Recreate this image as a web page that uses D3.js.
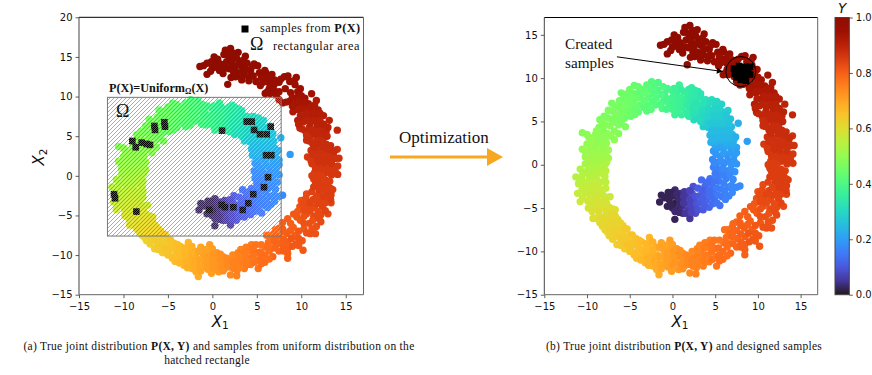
<!DOCTYPE html>
<html>
  <head>
    <meta charset="utf-8" />
    <title>Joint distribution and samples</title>
    <script src="https://cdnjs.cloudflare.com/ajax/libs/d3/7.8.5/d3.min.js"></script>
    <style>
      body { margin: 0; background: #fff; }
      text { font-family: "DejaVu Sans", sans-serif; fill: #111; }
      .serif { font-family: "Liberation Serif", serif; }
      .bold { font-weight: bold; }
    </style>
  </head>
  <body>
    <div id="chart"></div>
    <script>
      const coreArc = [[-1.5,-4.3,.02],[-1.3,-3.5,.02],[-.5,-3.2,.02],[-.4,-4,.02],[-.6,-4.8,.02],[.3,-2.9,.03],[.1,-3.6,.02],[.4,-4.4,.01],[0,-5,.02],[.6,-5.2,.03],[.28,-6.3,.02],[.9,-3.3,.04],[1,-4,.03],[1.1,-4.8,.04],[1.2,-5.6,.04],[1.7,-3.6,.06],[1.6,-4.4,.05],[1.8,-5.2,.06],[2.04,-6.2,.05],[2.43,-2.5,.09],[2.3,-3.3,.09],[2.4,-4.1,.08],[2.5,-4.9,.08],[2.7,-5.6,.08]];
      const coreFill = [[-.9,-3.8,.02],[-.1,-3.2,.02],[-.2,-4.5,.02],[.5,-3.4,.03],[.3,-5.4,.03],[.7,-3.9,.03],[.8,-4.6,.03],[.8,-5.5,.03],[1.4,-3.1,.05],[1.3,-3.7,.05],[1.3,-4.4,.05],[1.5,-5.6,.05],[2,-3,.07],[2,-4,.07],[2.1,-4.7,.07],[2.2,-5.5,.07],[2.7,-3.7,.09],[2.8,-4.5,.09],[3,-5.2,.09]];
      const blueArc = [[3,-2.7,.11],[3.1,-3.6,.1],[3.2,-4.4,.1],[3.6,-5.2,.1],[3.4,-1.75,.13],[3.8,-2.5,.12],[3.9,-3.3,.12],[4,-4.1,.12],[4.3,-4.9,.12],[4.4,-1.6,.14],[4.6,-2.4,.14],[4.8,-3.2,.14],[4.9,-4,.13],[5.55,-4.7,.14],[5,-1,.15],[5.4,-1.9,.15],[5.7,-2.8,.16],[5.8,-3.7,.15],[6.6,-3.6,.16],[6.5,-2.6,.16],[7.5,-2.6,.17],[7.9,-2.45,.17],[6.3,-1.6,.16],[7.1,-1.7,.17],[5.6,-.6,.16],[4.8,-.3,.16],[6.4,-.7,.17],[7.3,-.8,.18],[5.3,.3,.17],[6.1,.2,.18],[6.9,.1,.19],[7.5,.1,.19],[4.7,.6,.17],[5.6,1,.19],[6.4,1.1,.19],[7.2,1,.2],[4.8,1.6,.19],[5.3,1.9,.2],[6,2,.21],[6.8,2,.21],[7.5,2,.21],[8.75,2.7,.2]];
      const blueFill = [[3.5,-3,.11],[3.5,-3.9,.11],[3.7,-4.7,.11],[4.1,-2,.13],[4.3,-3,.13],[4.5,-3.7,.13],[4.7,-4.5,.13],[4.9,-1.9,.14],[5.2,-2.7,.15],[5.3,-3.5,.15],[5.2,-4.4,.14],[6.1,-3.1,.16],[6.2,-4,.16],[6,-2.1,.16],[6.9,-2.4,.17],[7,-3.2,.17],[5.2,-1.3,.15],[5.9,-1.2,.16],[6.7,-1.1,.17],[5.1,-.3,.16],[5.9,-.4,.17],[6.8,-.5,.18],[4.9,.2,.17],[5.7,.4,.18],[6.5,.5,.18],[7.2,.4,.19],[5.1,1.2,.19],[6,1.4,.2],[6.8,1.4,.2],[7.5,1.4,.2],[5,2.2,.21],[5.6,2.3,.21],[6.3,2.4,.22],[7.1,2.4,.22]];
      const skyArc = [[4.5,2.6,.23],[5.1,2.7,.23],[5.8,2.8,.23],[6.5,2.8,.23],[7.2,2.9,.23],[4.4,3.4,.24],[5,3.5,.25],[5.7,3.6,.25],[6.4,3.7,.25],[7,3.5,.24],[7.7,4.8,.23],[3.6,4.4,.28],[4.2,4.3,.27],[4.9,4.4,.26],[5.6,4.4,.26],[6.3,4.5,.26],[6.9,4.4,.25],[3.3,5,.3],[4,5.2,.29],[4.7,5.2,.28],[5.4,5.2,.28],[6.1,5.2,.27],[6.8,5.3,.26],[2.5,5.2,.31],[3.1,5.8,.31],[3.8,5.9,.3],[4.5,6,.29],[5.2,6,.29],[5.9,6.1,.28],[6.5,6.26,.28],[5.75,7,.29],[5,6.9,.3],[4.6,7.5,.31],[4.1,6.8,.31],[3.4,6.7,.32],[2.7,6.3,.33],[3.9,7.5,.32],[3.3,7.8,.33],[2.7,7.3,.33],[3,8.45,.34],[2.24,8.9,.35],[2.2,8.1,.34],[2,7.3,.34],[2,6.4,.34],[1.9,5.6,.34]];
      const skyFill = [[4.7,3,.24],[5.4,3.1,.24],[6.1,3.2,.24],[6.8,3.2,.24],[7.4,3.2,.23],[4.6,3.9,.25],[5.3,4,.25],[6,4,.25],[6.7,3.9,.25],[4,4.7,.28],[4.5,4.8,.27],[5.2,4.8,.27],[5.9,4.8,.27],[6.6,4.8,.26],[3.5,5.5,.3],[4.2,5.6,.29],[4.9,5.6,.28],[5.6,5.6,.28],[6.3,5.7,.27],[3,5.4,.31],[2.5,5.9,.32],[3.5,6.3,.31],[4.2,6.4,.3],[4.9,6.4,.29],[5.5,6.5,.29],[3,7,.33],[3.7,7.1,.32],[4.4,7.2,.31],[5.2,7.3,.3],[2.5,7.9,.34],[3.3,8.2,.33],[2.6,8.6,.34],[2.4,6.7,.33],[1.6,6,.35],[1.6,6.9,.35],[1.8,7.9,.35],[1.9,8.7,.35]];
      const topArc = [[1.07,5.76,.36],[.28,5.76,.37],[1.1,6.6,.36],[1.3,7.5,.36],[1.4,8.4,.36],[.8,9.2,.37],[.5,8.2,.37],[.4,7.3,.37],[.5,6.5,.37],[-.1,8.6,.38],[-.3,7.6,.38],[-.4,6.9,.39],[-.9,8.2,.39],[-1.1,7.3,.4],[-1.2,6.5,.4],[-1.66,9.5,.4],[-1.7,8.6,.4],[-1.9,7.7,.41],[-2,6.9,.41],[-2.44,9.6,.41],[-2.6,8.7,.42],[-2.8,7.8,.42],[-2.9,6.9,.42],[-3,6.2,.42],[-3.5,8.7,.43],[-3.7,7.8,.43],[-3.8,6.9,.43],[-4,6.1,.43],[-4.47,9.15,.44],[-4.5,8.2,.44],[-4.6,7.3,.44],[-4.7,6.4,.44],[-5.3,8.2,.45],[-5.3,7.3,.45],[-5.5,6.3,.45],[-5.6,5.4,.45],[-5.5,4.4,.47],[-4.9,5.6,.44]];
      const topFill = [[.7,6.2,.37],[.8,7,.37],[.9,7.8,.37],[1,8.7,.36],[0,6.4,.38],[.1,7.1,.38],[.1,7.9,.38],[.2,8.8,.37],[-.7,6.4,.39],[-.7,7.6,.39],[-.6,8.8,.39],[-1.4,7,.4],[-1.3,8.1,.4],[-1.1,9,.4],[-2.3,7.3,.41],[-2.2,8.2,.41],[-2.1,9.1,.41],[-2.5,6.4,.42],[-3.3,6.6,.42],[-3.3,7.4,.43],[-3.1,8.3,.43],[-3,9.2,.42],[-3.9,8.3,.43],[-4,9,.44],[-4.3,6.8,.44],[-4.2,7.7,.44],[-4.4,5.8,.44],[-5,6.9,.45],[-4.9,7.8,.45],[-5.1,5.9,.45],[-5,8.7,.45]];
      const leftArc = [[-6,8.3,.45],[-6.2,7.4,.46],[-6.2,6.5,.46],[-6.3,5.6,.46],[-7.1,7.1,.46],[-7,6.2,.47],[-7.1,5.2,.47],[-6.3,4.6,.47],[-6.8,3.9,.48],[-6.8,2.9,.49],[-8,5.6,.47],[-8.5,5.2,.47],[-7.9,4.6,.48],[-8.6,4.3,.48],[-7.6,3.6,.49],[-8.3,3.4,.49],[-9,3.5,.49],[-10.55,3.7,.48],[-9.8,3.2,.49],[-9.2,2.6,.5],[-8.5,2.5,.5],[-7.7,2.5,.5],[-10,2.4,.5],[-10.55,1.8,.5],[-9.8,1.6,.51],[-9,1.7,.51],[-8.2,1.6,.51],[-7.5,1.7,.51],[-10.2,.9,.51],[-9.5,.8,.52],[-8.8,.9,.52],[-8,.8,.52],[-7.5,.76,.52],[-10.2,.1,.52],[-9.5,0,.53],[-8.7,.1,.53],[-7.9,0,.53],[-10.8,-.5,.53],[-10.1,-.8,.54],[-9.3,-.7,.54],[-8.5,-.8,.54],[-7.8,-.7,.54],[-11.3,-1.4,.54],[-10.6,-1.6,.55],[-9.7,-1.6,.55],[-8.9,-1.6,.55],[-7.9,-1.35,.55],[-11,-2.2,.55],[-10.3,-2.5,.56],[-9.5,-2.4,.56],[-8.7,-2.4,.56],[-7.8,-2.7,.56],[-11.1,-3.3,.56],[-10.2,-3.3,.57],[-9.4,-3.2,.57],[-8.6,-3.3,.57],[-7.3,-3.7,.57],[-8,-3.6,.57],[-10.8,-4.25,.57],[-9.9,-4.2,.58],[-9.1,-4.1,.58],[-8.3,-4.3,.58],[-9.85,-5,.59],[-9,-5,.59],[-8.1,-5,.59],[-7.4,-4.9,.59],[-6.7,-5.2,.6]];
      const leftFill = [[-5.7,7.8,.45],[-5.8,6.9,.46],[-5.9,6,.46],[-6,5,.46],[-6.6,6.8,.46],[-6.7,5.8,.47],[-6.7,4.9,.47],[-6.3,3.6,.48],[-7.5,6.3,.47],[-7.5,5.4,.47],[-7.3,4.5,.48],[-7.2,3.3,.49],[-8.2,4.9,.48],[-8.1,4,.48],[-8.9,3.9,.49],[-7.9,3,.49],[-8.7,3,.49],[-9.5,2.9,.5],[-10,3.5,.49],[-8.9,2.1,.5],[-8.1,2.1,.5],[-9.6,2.1,.5],[-10.2,1.5,.51],[-9.4,1.3,.51],[-8.6,1.3,.51],[-7.8,1.2,.51],[-9.8,.4,.52],[-9.1,.4,.52],[-8.4,.5,.52],[-7.7,.3,.53],[-9.8,-.4,.53],[-9,-.3,.53],[-8.2,-.4,.54],[-10.5,-1.1,.54],[-9.7,-1.2,.54],[-8.9,-1.1,.54],[-8.1,-1.1,.55],[-10.8,-1.9,.55],[-10,-2,.55],[-9.3,-2,.56],[-8.4,-2,.56],[-7.8,-2,.55],[-10.6,-2.9,.56],[-9.8,-2.8,.56],[-9,-2.9,.57],[-8.2,-2.9,.56],[-10.5,-3.8,.57],[-9.6,-3.7,.57],[-8.8,-3.7,.58],[-7.8,-4.2,.58],[-9.5,-4.6,.58],[-8.7,-4.6,.59],[-7.7,-4.5,.59],[-9.4,-5.4,.59],[-8.6,-5.3,.6],[-7.7,-5.4,.6],[-7,-5.1,.6]];
      const lowerArc = [[-9.3,-6.2,.6],[-8.6,-5.8,.6],[-7.8,-5.8,.6],[-7.1,-5.7,.61],[-8.5,-6.7,.61],[-7.8,-6.6,.61],[-7,-6.5,.61],[-6.4,-6.3,.61],[-7.9,-7.5,.62],[-7.2,-7.3,.62],[-6.5,-7.2,.62],[-5.8,-7,.63],[-5.3,-7.4,.63],[-7.4,-8.2,.62],[-6.6,-8,.63],[-5.8,-7.9,.63],[-5,-8.1,.64],[-6.5,-9.2,.63],[-5.8,-8.8,.64],[-5,-8.9,.64],[-4.3,-8.5,.65],[-5.6,-9.7,.64],[-4.9,-9.6,.65],[-4.2,-9.3,.65],[-3.6,-8.9,.66],[-4.2,-10.1,.65],[-4.2,-10.8,.66],[-3.5,-9.8,.66],[-3.4,-10.6,.67],[-3.2,-11.3,.67],[-2.7,-8.4,.67],[-2.8,-9.3,.67],[-2.6,-10.2,.68],[-2.5,-11,.68],[-2.3,-11.7,.68],[-1.85,-12.1,.69],[-1.58,-12.7,.69],[-1.9,-9.5,.69],[-1.8,-10.4,.69],[-1.7,-11.2,.69],[-1.3,-9,.7],[-1,-9.9,.7],[-1,-10.7,.7],[-1,-11.5,.7],[-.3,-8.7,.71],[-.3,-9.6,.71],[-.2,-10.4,.71],[-.2,-11.2,.71],[-.1,-12.3,.71]];
      const lowerFill = [[-8.9,-6.2,.6],[-8.2,-6.2,.61],[-7.4,-6.1,.61],[-6.7,-5.9,.61],[-8.2,-7.1,.61],[-7.5,-6.9,.62],[-6.8,-6.8,.62],[-6.1,-6.7,.62],[-7.6,-7.8,.62],[-6.9,-7.7,.63],[-6.2,-7.6,.63],[-5.5,-7.4,.64],[-7,-8.6,.63],[-6.2,-8.4,.64],[-5.4,-8.4,.64],[-4.7,-8.1,.65],[-6.1,-9.3,.64],[-5.3,-9.2,.65],[-4.6,-9,.65],[-3.9,-8.7,.66],[-5,-10,.65],[-4.5,-10.4,.66],[-3.9,-9.6,.66],[-3.8,-10.4,.66],[-3.7,-11,.67],[-3.1,-9.1,.67],[-3.1,-10,.67],[-2.9,-10.8,.68],[-2.8,-11.6,.68],[-2.3,-8.9,.68],[-2.3,-9.8,.68],[-2.1,-10.7,.69],[-2,-11.4,.69],[-1.5,-9.6,.7],[-1.4,-10.6,.7],[-1.4,-11.5,.7],[-1.3,-12,.7],[-.7,-9.3,.7],[-.6,-10.2,.71],[-.6,-11,.71],[-.5,-11.8,.71],[0,-9.2,.71],[.1,-10,.72],[.1,-10.8,.72],[.1,-11.6,.72]];
      const bottomArc = [[.5,-9.7,.72],[.5,-10.5,.72],[.5,-11.3,.72],[.7,-12.1,.72],[1.2,-10.2,.73],[1.3,-11,.73],[1.4,-11.7,.73],[1.9,-10.7,.74],[2,-11.5,.74],[2.04,-12.5,.74],[2.74,-12.6,.75],[2.6,-10.3,.75],[2.7,-11.1,.75],[2.8,-11.9,.75],[3.2,-9.3,.75],[3.3,-10.1,.75],[3.5,-10.9,.76],[3.6,-11.7,.76],[4.4,-8.7,.76],[4.1,-9.5,.76],[4.2,-10.4,.76],[4.3,-11.2,.76],[5.16,-11.7,.77],[4.9,-8.7,.77],[5,-9.7,.77],[5.1,-10.6,.77],[6,-9,.78],[5.9,-10,.78],[5.9,-10.9,.78],[6.1,-7.5,.78],[6.6,-8.1,.78],[6.7,-9.1,.78],[6.8,-10.2,.79],[7,-7.2,.79],[7.5,-6.6,.79],[7.5,-7.6,.79],[7.6,-8.5,.79],[7.5,-9.5,.79],[8.4,-7.3,.8],[8.5,-8.3,.8],[8.47,-9.2,.8],[8.47,-9.8,.8],[8.47,-10.4,.8],[9.1,-6.5,.8],[9.3,-7.5,.8],[9.4,-8.6,.81],[10.2,-9.4,.81],[10.1,-8.2,.81],[8.47,-5.4,.8],[7.9,-6.7,.8]];
      const bottomFill = [[.9,-9.9,.73],[.9,-10.6,.73],[1,-11.5,.73],[1.2,-12,.73],[1.6,-10.4,.74],[1.7,-11.3,.74],[2.3,-10,.74],[2.3,-10.9,.75],[2.4,-11.7,.75],[2.9,-9.7,.75],[3,-10.6,.75],[3.1,-11.5,.75],[3.7,-9.6,.76],[3.8,-10.4,.76],[3.9,-11.2,.76],[3.8,-9,.76],[4.6,-9.2,.77],[4.6,-10,.77],[4.7,-10.9,.77],[5.5,-8.7,.77],[5.4,-9.6,.78],[5.5,-10.4,.78],[5.5,-11.1,.78],[6.3,-8.4,.78],[6.4,-9.5,.78],[6.4,-10.5,.78],[6.5,-7.5,.78],[7,-8.3,.79],[7.1,-9.1,.79],[7.1,-6.8,.79],[7.1,-7.8,.79],[8,-7,.8],[8,-8,.8],[8,-8.9,.8],[8,-9.5,.8],[7.9,-5.9,.8],[8.8,-6,.8],[8.8,-6.9,.8],[8.9,-7.9,.81],[9,-8.9,.81],[9.7,-7,.81],[9.7,-7.9,.81],[9.7,-8.8,.81]];
      const rightArc = [[9.14,-4.83,.81],[9.9,-5.6,.81],[10.3,-6.7,.81],[11,-7.3,.82],[11.6,-7.3,.82],[10.9,-6,.82],[11.7,-6.4,.82],[12.2,-5.8,.83],[9.84,-3.9,.82],[10.6,-4.8,.82],[11.4,-5.1,.83],[12.2,-4.9,.83],[13,-4.8,.83],[10,-3.1,.82],[10.7,-3.8,.83],[11.5,-4,.83],[12.4,-3.9,.84],[13.35,-3.4,.84],[10.6,-2.3,.83],[11.3,-3,.84],[12.2,-3.1,.84],[13,-2.9,.84],[11.2,-2,.84],[12,-2.1,.85],[12.8,-2.2,.85],[13.35,-2.43,.85],[13.54,-1.74,.85],[11.6,-.78,.85],[12.3,-1.2,.85],[13,-1.3,.85],[12,-.2,.85],[12.7,-.5,.85],[11.2,0,.85],[11.9,.6,.85],[12.7,.4,.86],[13.4,.1,.86],[14.1,.18,.86],[11.2,1.53,.86],[12,1.3,.86],[12.8,1.2,.86],[13.6,1,.86],[14.1,1.25,.86],[10.7,2.38,.86],[11.5,2.2,.87],[12.3,2.2,.87],[13.1,2.2,.87],[13.8,2.2,.87],[14.24,2.22,.87],[11.1,3.2,.87],[11.9,3.1,.87],[12.7,3.1,.87],[13.4,3,.87],[14.05,3.34,.87],[10.6,4.5,.88],[11.3,4,.88],[12,4,.88],[12.8,4,.88],[13.3,3.8,.88],[11,4.9,.88],[11.8,4.9,.88],[12.5,4.8,.88],[9.84,6.03,.89],[10.5,5.6,.89],[11.2,5.7,.89],[12,5.6,.89],[12.8,5.6,.89],[14.05,5.76,.89]];
      const rightFill = [[9.5,-5.2,.81],[9.6,-4.5,.81],[10.3,-5.1,.82],[10.3,-6,.82],[10.6,-7.2,.82],[11.2,-6.7,.82],[11.3,-5.6,.82],[12,-5.4,.83],[10.2,-3.5,.83],[10.3,-4.3,.83],[11,-4.4,.83],[11.9,-4.5,.83],[12.7,-4.4,.84],[10.5,-2.9,.83],[11,-3.4,.84],[11.8,-3.5,.84],[12.7,-3.4,.84],[11.7,-2.6,.84],[12.5,-2.6,.85],[13.3,-3,.85],[11.4,-1.4,.85],[12,-1.5,.85],[12.7,-1.7,.85],[13.3,-1.6,.85],[11.4,-.4,.85],[11.9,-.9,.85],[12.5,-.9,.85],[13.2,-.7,.85],[11.5,.4,.85],[12.3,.2,.85],[13,.5,.86],[13.8,.7,.86],[11.6,1,.86],[12.4,.9,.86],[13.2,1.1,.86],[11.1,1.9,.86],[11.9,1.8,.87],[12.6,1.7,.87],[13.4,1.6,.87],[11.3,2.7,.87],[12.1,2.7,.87],[12.9,2.6,.87],[13.6,2.7,.87],[11.5,3.6,.88],[12.4,3.6,.88],[13.1,3.4,.88],[13.7,3.1,.88],[10.9,4.4,.88],[11.7,4.4,.88],[12.4,4.4,.88],[10.6,5.1,.88],[11.5,5.3,.89],[12.2,5.3,.89],[12.9,5,.89],[10.1,5.9,.89],[10.9,6.1,.89],[11.7,6,.89],[12.4,6,.89],[13,6.1,.9]];
      const upperArc = [[10.2,6.8,.9],[11,6.6,.9],[11.8,6.5,.9],[12.5,6.5,.9],[13.15,7,.9],[9.6,7,.91],[10.3,7.6,.91],[11,7.5,.91],[11.8,7.4,.91],[12.5,7.6,.91],[9.06,8.07,.92],[9.8,8.3,.92],[10.5,8.4,.92],[11.2,8.3,.92],[11.9,8.3,.92],[9.3,9,.93],[10,9.1,.93],[10.8,9.1,.93],[11.7,9.5,.92],[8.7,9.4,.94],[9.5,9.8,.94],[10.4,9.8,.94],[11.16,10.35,.94],[7.9,9.2,.94],[9.6,10.6,.95],[9.3,11.5,.95],[9.44,12.4,.96],[8.1,12.5,.96],[8.7,11.9,.96],[7.5,11.8,.96],[6.94,11.5,.96],[6.5,10.4,.96],[5.94,10.38,.96],[6.4,11,.96],[7.2,10.2,.95],[7.5,10.6,.95],[8.2,11,.95],[8.8,10.5,.95]];
      const upperFill = [[9.7,6.5,.9],[10.6,7,.9],[11.4,7,.9],[12.1,7,.9],[9.9,7.6,.91],[10.7,8,.91],[11.4,7.9,.91],[12.1,7.9,.91],[9.5,8.4,.92],[10.2,8.7,.92],[11,8.7,.92],[11.5,8.9,.92],[9,8.8,.93],[9.7,9.4,.93],[10.3,9.3,.93],[9,9.9,.94],[10,10.1,.94],[8.3,9.3,.94],[7.5,9.6,.95],[9.9,11,.95],[9.2,12,.95],[8.5,12.6,.96],[7.7,12.2,.96],[7,12.1,.96],[6.4,11.7,.96],[6.9,10.8,.96],[6.2,10.6,.96]];
      const headArc = [[6,13,.96],[6.7,12.8,.96],[6.1,12.2,.96],[5.7,11.8,.96],[5.4,11.4,.96],[4.9,11.9,.96],[4.1,12,.97],[4.6,12.6,.97],[5.3,13,.97],[5.1,13.9,.97],[4.7,14.1,.97],[4.3,13.3,.98],[3.6,12.7,.98],[3.3,12.1,.97],[3.9,14.2,.98],[3.3,13.8,.98],[2.9,13,.98],[2.1,12.4,.99],[1.73,11.54,.98],[2.5,13.6,.99],[1.9,13.5,1],[2.2,14.2,1],[3,14.5,.99],[3.71,15.1,.99],[2.4,14.9,1],[2.9,15.58,.99],[1.8,15.2,1],[2.04,16.07,1],[1.46,15.84,1],[1.5,13.6,1],[1.2,12.9,.99],[.8,13.3,1],[.9,14.1,1],[.3,14.3,1],[.2,15,1],[0,13.6,1],[-.6,14.2,.99],[-.6,12.8,.99],[-1.4,13.8,.99]];
      const headFill = [[6.5,12.4,.96],[5.5,12.4,.96],[5.9,13.3,.97],[4.5,13.8,.97],[3.8,13.4,.98],[3.5,13,.98],[4.2,12.5,.98],[3.1,12.6,.98],[2.6,12.5,.99],[2.4,13,.99],[2.9,14,.99],[3.5,14.6,.98],[2.7,14.9,.99],[2,14.8,1],[1.6,14.4,1],[1.3,15.3,1],[1.1,13.7,1],[.5,13.7,1],[.6,14.7,1],[-.1,14.4,1],[-.2,13.2,1],[-1,13.9,1],[2.3,15.5,1]];

      const jointPoints = [...coreArc, ...coreFill, ...blueArc, ...blueFill, ...skyArc, ...skyFill, ...topArc, ...topFill, ...leftArc, ...leftFill, ...lowerArc, ...lowerFill, ...bottomArc, ...bottomFill, ...rightArc, ...rightFill, ...upperArc, ...upperFill, ...headArc, ...headFill];

      // samples, [X1, X2]
      const uniformSamples = [[-9,4.4],[-8.62,3.6],[-7.95,4.19],[-7.39,4.02],[-7.01,3.9],[-6.53,6.29],[-6.45,5.79],[-5.4,6.76],[-5.33,6.2],[-11.06,-2.32],[-10.95,-2.83],[-8.55,-4.51],[1.09,5.7],[3.86,6.84],[4.42,6.84],[4.69,5.79],[5.36,5.25],[6.11,5.25],[6.56,6.2],[6.04,2.6],[6.63,2.6],[6.26,-.18],[5.81,-1.44],[4.6,-2.32],[4.04,-3.46],[3.41,-4.3],[2.36,-3.96],[1.05,-3.67],[1.42,-3.96],[-.34,-4.3]];
      const designedSamples = [[7.2,11.1],[7.3,10.5],[7.8,11.4],[7.9,10.8],[8,10.2],[8.5,11.3],[8.5,10.6],[8.4,10],[8.9,10.9],[9.1,11.3],[9.1,10.4],[8,9.8],[8.6,9.7],[7.5,10.1]];

      const xTicks = [-15, -10, -5, 0, 5, 10, 15];
      const yTicksLeft = [-15, -10, -5, 0, 5, 10, 15, 20];
      const yTicksRight = [-15, -10, -5, 0, 5, 10, 15];
      const colorTicks = [0, 0.2, 0.4, 0.6, 0.8, 1];
      const omegaRect = { x0: -11.8, x1: 7.74, y0: -7.6, y1: 9.9 };

      const width = 872, height = 375, dotR = 3.7, squareSize = 6.6;

      const svg = d3.select("#chart").append("svg").attr("width", width).attr("height", height);
      const defs = svg.append("defs");

      // grey hatch lines with a faint pale streak in between, the marks under it look washed out
      const hatch = defs.append("pattern").attr("id", "hatch")
        .attr("patternUnits", "userSpaceOnUse").attr("width", 4).attr("height", 4);
      hatch.append("path").attr("d", "M-1,3L3,-1M1,5L5,1")
        .attr("stroke", "#fff").attr("stroke-opacity", 0.28).attr("stroke-width", 1);
      hatch.append("path").attr("d", "M-1,1L1,-1M0,4L4,0M3,5L5,3")
        .attr("stroke", "#888").attr("stroke-width", 0.7);

      function drawPanel(box, domainX, domainY, yTicks, samples) {
        const x = d3.scaleLinear().domain(domainX).range([box.left, box.right]);
        const y = d3.scaleLinear().domain(domainY).range([box.bottom, box.top]);
        const g = svg.append("g");

        g.append("g").selectAll("circle").data(jointPoints).join("circle")
          .attr("cx", (d) => x(d[0]))
          .attr("cy", (d) => y(d[1]))
          .attr("r", dotR)
          .attr("fill", (d) => d3.interpolateTurbo(d[2]));

        g.append("g").selectAll("rect").data(samples).join("rect")
          .attr("x", (d) => x(d[0]) - squareSize / 2)
          .attr("y", (d) => y(d[1]) - squareSize / 2)
          .attr("width", squareSize)
          .attr("height", squareSize)
          .attr("fill", "#000");

        const xAxis = g.append("g").attr("transform", `translate(0,${box.bottom})`)
          .call(d3.axisBottom(x).tickValues(xTicks).tickFormat(d3.format("d")).tickSize(3.5).tickSizeOuter(0));
        const yAxis = g.append("g").attr("transform", `translate(${box.left},0)`)
          .call(d3.axisLeft(y).tickValues(yTicks).tickFormat(d3.format("d")).tickSize(3.5).tickSizeOuter(0));
        [xAxis, yAxis].forEach((a) => {
          a.select(".domain").remove();
          a.selectAll("line").attr("stroke", "#333").attr("stroke-width", 0.8);
          a.selectAll("text").attr("font-size", 10).attr("font-family", "DejaVu Sans").attr("fill", "#111");
        });
        xAxis.selectAll("text").attr("dy", "0.85em");

        // spines, the reference renders top darker than the rest
        const spine = (x1, y1, x2, y2, c) => g.append("line")
          .attr("x1", x1).attr("y1", y1).attr("x2", x2).attr("y2", y2)
          .attr("stroke", c).attr("stroke-width", 1);
        spine(box.left, box.top, box.right, box.top, "#000");
        spine(box.left, box.top, box.left, box.bottom, "#444");
        spine(box.right, box.top, box.right, box.bottom, "#666");
        spine(box.left, box.bottom, box.right, box.bottom, "#666");

        const xLabel = g.append("text").attr("x", (box.left + box.right) / 2 - 1).attr("y", box.bottom + 32)
          .attr("text-anchor", "middle").attr("font-size", 15).attr("font-style", "italic").text("X");
        xLabel.append("tspan").attr("font-size", 10.5).attr("font-style", "normal").attr("dy", 2.5).text("1");

        return { g, x, y };
      }

      // left panel
      const leftBox = { left: 79, right: 363.5, top: 17.3, bottom: 294.7 };
      const left = drawPanel(leftBox, [-15, 17], [-15, 20], yTicksLeft, uniformSamples);

      left.g.append("rect")
        .attr("x", left.x(omegaRect.x0)).attr("y", left.y(omegaRect.y1))
        .attr("width", left.x(omegaRect.x1) - left.x(omegaRect.x0))
        .attr("height", left.y(omegaRect.y0) - left.y(omegaRect.y1))
        .attr("fill", "url(#hatch)")
        .attr("stroke", "#777").attr("stroke-width", 1);

      const x2Label = left.g.append("text").attr("transform", "translate(44,157) rotate(-90)")
        .attr("text-anchor", "middle").attr("font-size", 15).attr("font-style", "italic").text("X");
      x2Label.append("tspan").attr("font-size", 10.5).attr("font-style", "normal").attr("dy", 2.5).text("2");

      // legend
      left.g.append("rect").attr("x", 241.5).attr("y", 25.5).attr("width", 7).attr("height", 7).attr("fill", "#000");
      const legend1 = svg.append("text").attr("class", "serif").attr("x", 260).attr("y", 32)
        .attr("font-size", 12.3).attr("letter-spacing", 0.36);
      legend1.append("tspan").text("samples from ");
      legend1.append("tspan").attr("class", "bold").text("P(X)");
      svg.append("text").attr("class", "serif").attr("x", 250).attr("y", 50).attr("font-size", 18).text("Ω");
      svg.append("text").attr("class", "serif").attr("x", 273).attr("y", 50)
        .attr("font-size", 12.3).attr("letter-spacing", 0.5).text("rectangular area");

      const uniformLabel = svg.append("text").attr("class", "serif bold").attr("x", 109).attr("y", 92).attr("font-size", 12.2);
      uniformLabel.append("tspan").text("P(X)=Uniform");
      uniformLabel.append("tspan").attr("font-size", 8).attr("dy", 2).text("Ω");
      uniformLabel.append("tspan").attr("dy", -2).text("(X)");
      svg.append("text").attr("class", "serif").attr("x", 116).attr("y", 116.5).attr("font-size", 18).text("Ω");

      // right panel
      const rightBox = { left: 544.3, right: 817.7, top: 17.5, bottom: 294.7 };
      const right = drawPanel(rightBox, [-15, 17], [-15, 17], yTicksRight, designedSamples);

      const marker = defs.append("marker").attr("id", "head").attr("viewBox", "0 0 10 10")
        .attr("refX", 10).attr("refY", 5).attr("markerWidth", 7).attr("markerHeight", 6)
        .attr("markerUnits", "userSpaceOnUse").attr("orient", "auto");
      marker.append("path").attr("d", "M0,0L10,5L0,10Z").attr("fill", "#000");

      right.g.append("line")
        .attr("x1", right.x(-6.5)).attr("y1", right.y(12.46))
        .attr("x2", right.x(5.9)).attr("y2", right.y(10.76))
        .attr("stroke", "#000").attr("stroke-width", 1).attr("marker-end", "url(#head)");
      right.g.append("circle").attr("cx", right.x(8)).attr("cy", right.y(10.76)).attr("r", 15)
        .attr("fill", "none").attr("stroke", "#000").attr("stroke-width", 1);
      svg.append("text").attr("class", "serif").attr("x", 565).attr("y", 49).attr("font-size", 15.2).text("Created");
      svg.append("text").attr("class", "serif").attr("x", 565).attr("y", 68).attr("font-size", 15.2).text("samples");

      // colorbar
      const cbar = { left: 835, right: 849.3, top: 17.5, bottom: 294.7 };
      const grad = defs.append("linearGradient").attr("id", "turbo")
        .attr("x1", 0).attr("y1", 1).attr("x2", 0).attr("y2", 0);
      d3.range(0, 1.001, 0.05).forEach((t) => {
        grad.append("stop").attr("offset", t).attr("stop-color", d3.interpolateTurbo(t));
      });
      svg.append("rect").attr("x", cbar.left).attr("y", cbar.top)
        .attr("width", cbar.right - cbar.left).attr("height", cbar.bottom - cbar.top)
        .attr("fill", "url(#turbo)").attr("stroke", "#444").attr("stroke-width", 1);
      const cScale = d3.scaleLinear().domain([0, 1]).range([cbar.bottom, cbar.top]);
      const cAxis = svg.append("g").attr("transform", `translate(${cbar.right},0)`)
        .call(d3.axisRight(cScale).tickValues(colorTicks).tickFormat(d3.format(".1f")).tickSize(3.5).tickSizeOuter(0));
      cAxis.select(".domain").remove();
      cAxis.selectAll("line").attr("stroke", "#333").attr("stroke-width", 0.8);
      cAxis.selectAll("text").attr("font-size", 10).attr("font-family", "DejaVu Sans").attr("fill", "#111");
      svg.append("text").attr("x", 842).attr("y", 12.5).attr("text-anchor", "middle")
        .attr("font-size", 13.5).attr("font-style", "italic").text("Y");

      // optimization arrow
      svg.append("text").attr("class", "serif").attr("x", 399).attr("y", 143).attr("font-size", 17).text("Optimization");
      svg.append("line").attr("x1", 390).attr("y1", 157).attr("x2", 489).attr("y2", 157)
        .attr("stroke", "#f7a823").attr("stroke-width", 3);
      svg.append("path").attr("d", "M487,148L503,157L487,166Z").attr("fill", "#f7a823");

      // captions
      const capA = svg.append("text").attr("class", "serif").attr("x", 219).attr("y", 349.5)
        .attr("text-anchor", "middle").attr("font-size", 11.5).attr("letter-spacing", 0.29);
      capA.append("tspan").text("(a) True joint distribution ");
      capA.append("tspan").attr("class", "bold").text("P(X, Y)");
      capA.append("tspan").text(" and samples from uniform distribution on the");
      svg.append("text").attr("class", "serif").attr("x", 207).attr("y", 364)
        .attr("text-anchor", "middle").attr("font-size", 11.5).attr("letter-spacing", 0.29).text("hatched rectangle");
      const capB = svg.append("text").attr("class", "serif").attr("x", 684).attr("y", 349.5)
        .attr("text-anchor", "middle").attr("font-size", 11.5).attr("letter-spacing", 0.29);
      capB.append("tspan").text("(b) True joint distribution ");
      capB.append("tspan").attr("class", "bold").text("P(X, Y)");
      capB.append("tspan").text(" and designed samples");
    </script>
  </body>
</html>
